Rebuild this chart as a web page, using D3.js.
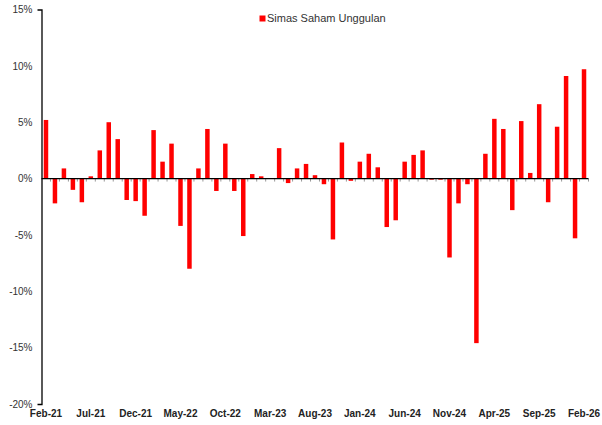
<!DOCTYPE html>
<html><head><meta charset="utf-8">
<script src="https://cdn.jsdelivr.net/npm/d3@7"></script>
<style>body{margin:0;background:#fff}svg{display:block}</style>
</head><body>
<svg id="c" width="602" height="425"></svg>
<script>
const months = ["Feb-21","Mar-21","Apr-21","May-21","Jun-21","Jul-21","Aug-21","Sep-21","Oct-21","Nov-21","Dec-21",
"Jan-22","Feb-22","Mar-22","Apr-22","May-22","Jun-22","Jul-22","Aug-22","Sep-22","Oct-22","Nov-22","Dec-22",
"Jan-23","Feb-23","Mar-23","Apr-23","May-23","Jun-23","Jul-23","Aug-23","Sep-23","Oct-23","Nov-23","Dec-23",
"Jan-24","Feb-24","Mar-24","Apr-24","May-24","Jun-24","Jul-24","Aug-24","Sep-24","Oct-24","Nov-24","Dec-24",
"Jan-25","Feb-25","Mar-25","Apr-25","May-25","Jun-25","Jul-25","Aug-25","Sep-25","Oct-25","Nov-25","Dec-25",
"Jan-26","Feb-26"];
const returns = [5.2,-2.2,0.9,-1.0,-2.1,0.2,2.5,5.0,3.5,-1.9,-2.0,
-3.3,4.3,1.5,3.1,-4.2,-8.0,0.9,4.4,-1.1,3.1,-1.1,-5.1,
0.4,0.2,0.0,2.7,-0.4,0.9,1.3,0.3,-0.5,-5.4,3.2,-0.2,
1.5,2.2,1.0,-4.3,-3.7,1.5,2.1,2.5,-0.1,-0.1,-7.0,-2.2,
-0.5,-14.6,2.2,5.3,4.4,-2.8,5.1,0.5,6.6,-2.1,4.6,9.1,
-5.3,9.7];
const xTickLabels = ["Feb-21","Jul-21","Dec-21","May-22","Oct-22","Mar-23","Aug-23","Jan-24","Jun-24","Nov-24","Apr-25","Sep-25","Feb-26"];
const yTicks = [15,10,5,0,-5,-10,-15,-20];
const seriesName = "Simas Saham Unggulan";

const svg = d3.select("#c");
const plotL = 41.5, plotR = 588.5, plotT = 9.5, plotB = 404;
const x = d3.scaleBand().domain(months).range([plotL, plotR]).paddingInner(0.5).paddingOuter(0.25);
const y = d3.scaleLinear().domain([-20, 15]).range([plotB, plotT]);
const font = "'Liberation Sans', Arial, sans-serif";

// bars
svg.append("g").selectAll("rect").data(months).join("rect")
  .attr("x", d => x(d))
  .attr("width", x.bandwidth())
  .attr("y", (d,i) => y(Math.max(0, returns[i])))
  .attr("height", (d,i) => Math.abs(y(returns[i]) - y(0)))
  .attr("fill", "#ff0000");

// y axis
const ya = svg.append("g").attr("transform", `translate(${plotL},0)`)
  .call(d3.axisLeft(y).tickValues(yTicks).tickFormat(d => d + "%").tickSizeInner(0).tickSizeOuter(4).tickPadding(9));
ya.select(".domain").attr("stroke", "#000").attr("stroke-width", 1.3);
ya.selectAll("text").attr("font-family", font).attr("font-size", 10).attr("fill", "#333");

// zero line with category ticks
const bounds = d3.range(months.length + 1).map(i => plotL + i * (plotR - plotL) / months.length);
svg.append("g").selectAll("line").data(bounds.slice(1)).join("line")
  .attr("x1", d => d).attr("x2", d => d)
  .attr("y1", y(0)).attr("y2", y(0) + 3)
  .attr("stroke", "#999").attr("stroke-width", 1);
svg.append("line").attr("x1", plotL).attr("x2", plotR)
  .attr("y1", y(0)).attr("y2", y(0)).attr("stroke", "#000").attr("stroke-width", 1.3);

// x labels
svg.append("g").selectAll("text").data(xTickLabels).join("text")
  .attr("x", d => x(d) + x.bandwidth() / 2)
  .attr("y", 417)
  .attr("text-anchor", "middle")
  .attr("font-family", font).attr("font-size", 10).attr("font-weight", "bold").attr("fill", "#222")
  .text(d => d);

// legend
svg.append("rect").attr("x", 259.5).attr("y", 15.5).attr("width", 6).attr("height", 6).attr("fill", "#ff0000");
svg.append("text").attr("x", 267).attr("y", 22).attr("font-family", font).attr("font-size", 11).attr("fill", "#333").text(seriesName);
</script>
</body></html>
